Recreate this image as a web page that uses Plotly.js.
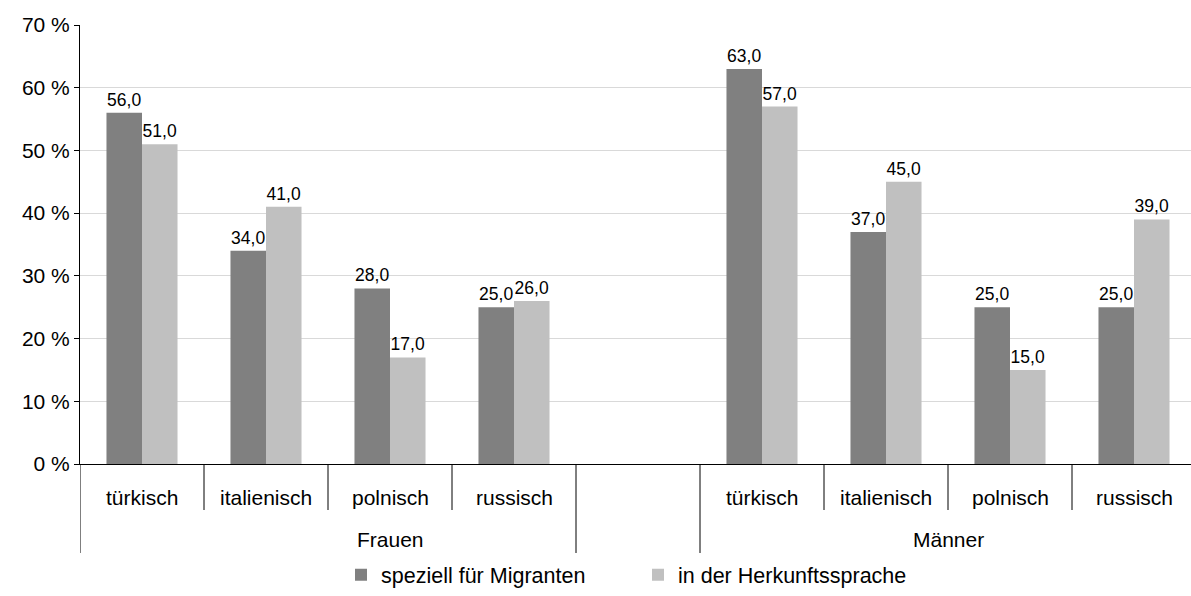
<!DOCTYPE html>
<html>
<head>
<meta charset="utf-8">
<script src="https://cdn.plot.ly/plotly-3.0.1.min.js"></script>
<style>
html,body{margin:0;padding:0;overflow:hidden;background:#fff;}
#chart{width:1196px;height:596px;}
</style>
</head>
<body>
<div id="chart"></div>
<script>
// ---- data ----
var groups = ['Frauen', 'Männer'];
var languages = ['türkisch', 'italienisch', 'polnisch', 'russisch'];
var migrantenFrauen = [56, 34, 28, 25];
var migrantenMaenner = [63, 37, 25, 25];
var herkunftFrauen = [51, 41, 17, 26];
var herkunftMaenner = [57, 45, 15, 39];
var seriesNames = ['speziell für Migranten', 'in der Herkunftssprache'];
var yTicks = [0, 10, 20, 30, 40, 50, 60, 70];

// category keys (one empty slot after the Frauen group)
var keysF = languages.map(function(l){ return 'Frauen|' + l; });
var keysM = languages.map(function(l){ return 'Männer|' + l; });
var blankKey = 'Frauen|';
var categoryOrder = keysF.concat([blankKey]).concat(keysM);

function fmt(v){ return v.toFixed(1).replace('.', ','); }

var FONT = '"Liberation Sans", Arial, Helvetica, sans-serif';
var migVals = migrantenFrauen.concat(migrantenMaenner);
var herVals = herkunftFrauen.concat(herkunftMaenner);
var xKeys = keysF.concat(keysM);

var traces = [
  {
    type: 'bar', name: seriesNames[0], x: xKeys, y: migVals,
    text: migVals.map(fmt), textposition: 'outside', cliponaxis: false,
    textfont: {family: FONT, size: 17.5, color: '#000'},
    marker: {color: '#808080'}, hoverinfo: 'none'
  },
  {
    type: 'bar', name: seriesNames[1], x: xKeys, y: herVals,
    text: herVals.map(fmt), textposition: 'outside', cliponaxis: false,
    textfont: {family: FONT, size: 17.5, color: '#000'},
    marker: {color: '#c0c0c0'}, hoverinfo: 'none'
  }
];

// label annotations and separator shapes
var annotations = [];
var catLabelY = -0.0752;
categoryOrder.forEach(function(k){
  var lab = k.split('|')[1];
  if (lab) {
    annotations.push({x: k, xref: 'x', y: catLabelY, yref: 'paper', text: lab,
      showarrow: false, yanchor: 'middle', xanchor: 'center',
      font: {family: FONT, size: 21, color: '#000'}});
  }
});
annotations.push({x: 2, xref: 'x', y: -0.173, yref: 'paper', text: groups[0],
  showarrow: false, yanchor: 'middle', font: {family: FONT, size: 21, color: '#000'}});
annotations.push({x: 6.5, xref: 'x', y: -0.173, yref: 'paper', text: groups[1],
  showarrow: false, yanchor: 'middle', font: {family: FONT, size: 21, color: '#000'}});

var shapes = [];
var shortB = [0.5, 1.5, 2.5, 5.5, 6.5, 7.5];
var longB = [-0.5, 3.5, 4.5];
shortB.forEach(function(b){
  shapes.push({type: 'line', xref: 'x', yref: 'paper', x0: b, x1: b, y0: 0, y1: -0.1048,
    line: {color: '#000', width: 1}});
});
longB.forEach(function(b){
  shapes.push({type: 'line', xref: 'x', yref: 'paper', x0: b, x1: b, y0: 0, y1: -0.2027,
    line: {color: '#000', width: 1}});
});

var layout = {
  width: 1196, height: 596,
  margin: {l: 80, r: 0, t: 25, b: 132, autoexpand: false},
  paper_bgcolor: '#fff', plot_bgcolor: '#fff',
  font: {family: FONT, size: 21, color: '#000'},
  barmode: 'group', bargap: 0.427, bargroupgap: 0,
  showlegend: true,
  legend: {orientation: 'h', x: 0.5, xanchor: 'center', y: -0.299, yanchor: 'bottom',
    font: {family: FONT, size: 21.5, color: '#000'}, traceorder: 'normal',
    entrywidth: 252, entrywidthmode: 'pixels'},
  xaxis: {
    type: 'category', categoryorder: 'array', categoryarray: categoryOrder,
    range: [-0.5, 8.5], showticklabels: false, ticks: '', showgrid: false,
    showline: true, linecolor: '#000', linewidth: 1, zeroline: false, fixedrange: true
  },
  yaxis: {
    range: [0, 70], tickvals: yTicks, ticktext: yTicks.map(function(v){ return v + ' %'; }),
    ticks: 'outside', ticklen: 5, tickcolor: '#000', tickwidth: 1,
    showline: true, linecolor: '#000', linewidth: 1,
    showgrid: true, gridcolor: '#d9d9d9', gridwidth: 1, zeroline: false,
    tickfont: {family: FONT, size: 21, color: '#000'}, fixedrange: true
  },
  annotations: annotations,
  shapes: shapes
};

Plotly.newPlot('chart', traces, layout, {displayModeBar: false, staticPlot: true});
</script>
</body>
</html>
